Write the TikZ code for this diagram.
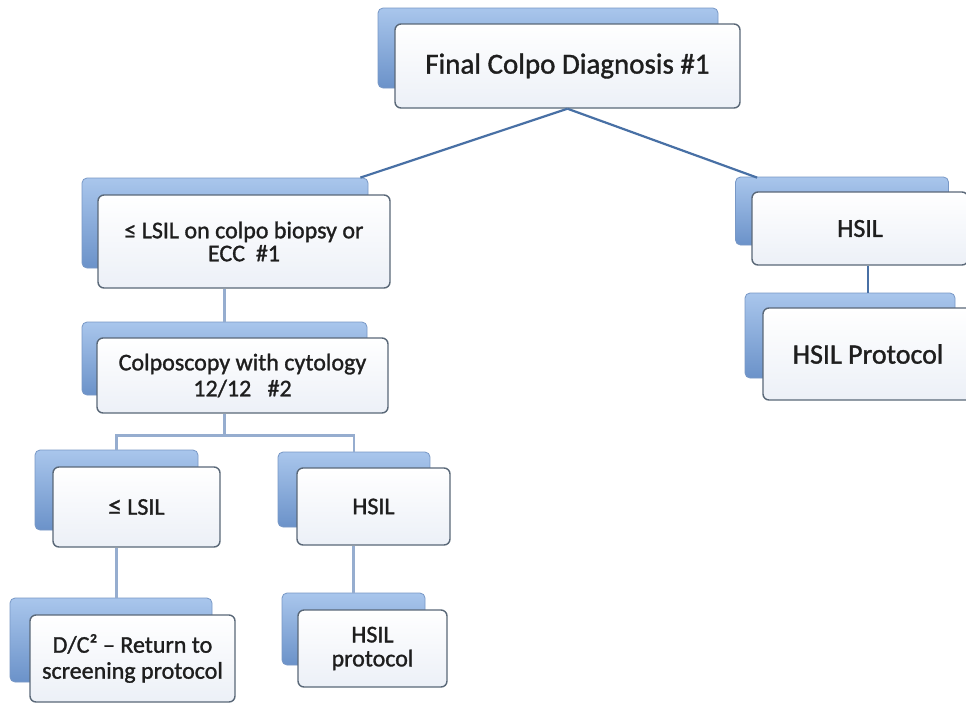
\documentclass[tikz,border=0pt]{standalone}
\usepackage{fontspec}
\setmainfont{Carlito}[FakeBold=1.2]
\usetikzlibrary{calc}
\definecolor{backtop}{HTML}{A9C6EC}
\definecolor{backbot}{HTML}{6B92C9}
\definecolor{backedge}{HTML}{7898C6}
\definecolor{frontedge}{HTML}{5A6878}
\definecolor{frontbot}{HTML}{ECF0F7}
\definecolor{linedark}{HTML}{4870A5}
\definecolor{linelight}{HTML}{96ADCF}
\definecolor{txt}{HTML}{1E1E1E}
\begin{document}
\begin{tikzpicture}[x=1pt,y=-1pt,
 backbox/.style={rectangle, rounded corners=5pt, top color=backtop, bottom color=backbot, draw=backedge, line width=0.8pt, inner sep=0pt},
 frontbox/.style={rectangle, rounded corners=6pt, top color=white, bottom color=frontbot, draw=frontedge, line width=1.4pt, inner sep=0pt, align=center, text=txt, font=\fontsize{24}{26}\selectfont},
 linkdark/.style={draw=linedark, line width=2.2pt},
 linklight/.style={draw=linelight, line width=2.6pt},
]
\useasboundingbox (0,0) rectangle (966,702);
\clip (0,0) rectangle (966,702);
\fill[white] (0,0) rectangle (966,702);

% back boxes
\node[backbox, minimum width=340pt, minimum height=80pt] (topB) at (548,48) {};
\node[backbox, minimum width=286pt, minimum height=90pt] (l1B) at (225,223) {};
\node[backbox, minimum width=213pt, minimum height=68pt] (hrB) at (842,211) {};
\node[backbox, minimum width=210pt, minimum height=85pt] (hrpB) at (850,335.5) {};
\node[backbox, minimum width=285pt, minimum height=73pt] (cpB) at (224.5,358.5) {};
\node[backbox, minimum width=163pt, minimum height=80pt] (l2B) at (116.5,490) {};
\node[backbox, minimum width=152pt, minimum height=75pt] (h2B) at (354,489.5) {};
\node[backbox, minimum width=202pt, minimum height=84pt] (dcB) at (111,640) {};
\node[backbox, minimum width=143pt, minimum height=72pt] (hpB) at (353.5,629) {};

% front boxes
\node[frontbox, minimum width=345pt, minimum height=84pt, font=\fontsize{29}{32}\selectfont] (top) at (567.5,66) {Final Colpo Diagnosis \#1};
\node[frontbox, minimum width=292pt, minimum height=93pt] (l1) at (244,241.5) {≤ LSIL on colpo biopsy or\\[-3pt]ECC~~\#1};
\node[frontbox, minimum width=216pt, minimum height=73pt, font=\fontsize{26}{28}\selectfont] (hr) at (860,228.5) {HSIL};
\node[frontbox, minimum width=210pt, minimum height=92pt, font=\fontsize{28}{30}\selectfont] (hrp) at (868,354) {HSIL Protocol};
\node[frontbox, minimum width=291pt, minimum height=75pt] (cp) at (242.5,375.5) {Colposcopy with cytology\\12/12~~~\#2};
\node[frontbox, minimum width=167pt, minimum height=80pt] (l2) at (136.5,507) {{\fontsize{27}{27}\selectfont ≤} LSIL};
\node[frontbox, minimum width=153pt, minimum height=77pt] (h2) at (373.5,506.5) {HSIL};
\node[frontbox, minimum width=205pt, minimum height=87pt] (dc) at (132.5,658.5) {D/C² – Return to\\screening protocol};
\node[frontbox, minimum width=149pt, minimum height=77pt] (hp) at (372.5,648.5) {HSIL\\[-2pt]protocol};

% connectors
\draw[linkdark] (top.south) -- ($(l1B.north east)+(-8,0)$);
\draw[linkdark] (top.south) -- ($(hrB.north west)+(22,1)$);
\draw[linkdark] (hr.south -| hrp) -- (hrpB.north -| hrp);
\draw[linklight] (l1.south -| cpB) -- (cpB.north);
\draw[linklight] (cp.south -| cpB) -- ++(0,22) coordinate (j1);
\draw[linklight] (l2B.north) |- (j1) -| (h2B.north);
\draw[linklight] (l2.south -| l2B) -- (dcB.north -| l2B);
\draw[linklight] (h2.south -| hpB) -- (hpB.north);
\end{tikzpicture}
\end{document}
